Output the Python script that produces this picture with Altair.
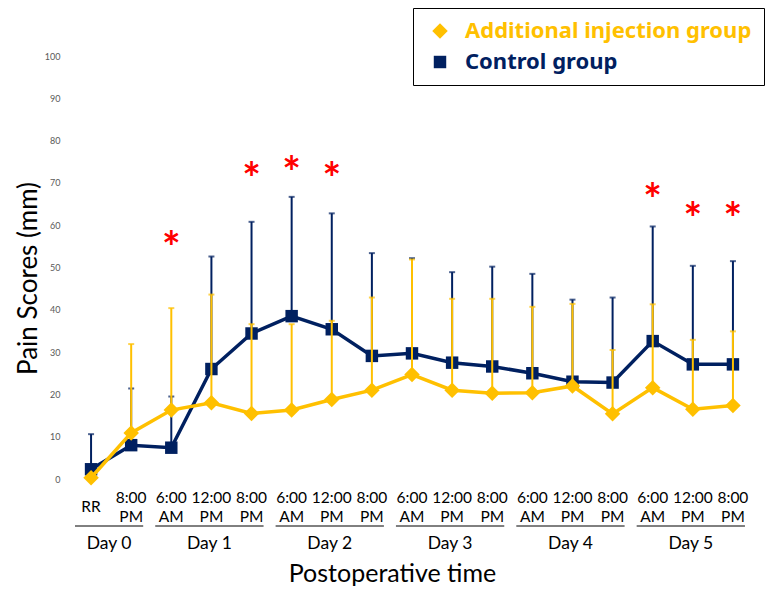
import altair as alt
import pandas as pd

# ---- data ----
idx = list(range(17))
time_top = ["", "8:00", "6:00", "12:00", "8:00", "6:00", "12:00", "8:00",
            "6:00", "12:00", "8:00", "6:00", "12:00", "8:00", "6:00", "12:00", "8:00"]
time_bottom = ["", "PM", "AM", "PM", "PM", "AM", "PM", "PM",
               "AM", "PM", "PM", "AM", "PM", "PM", "AM", "PM", "PM"]
time_mid = ["RR"] + [""] * 16

days = ["Day 0", "Day 1", "Day 2", "Day 3", "Day 4", "Day 5"]
day_start = [0, 2, 5, 8, 11, 14]
day_end = [1, 4, 7, 10, 13, 16]

add_mean = [0.3, 10.9, 16.3, 18.0, 15.5, 16.3, 18.8, 21.0, 24.7, 21.0, 20.3, 20.4, 22.0, 15.4, 21.6, 16.5, 17.4]
add_upper = [0.3, 31.9, 40.4, 43.6, 36.6, 36.6, 37.4, 42.9, 51.9, 42.6, 42.6, 40.7, 41.4, 30.5, 41.3, 32.9, 34.9]
ctl_mean = [2.3, 8.0, 7.4, 26.0, 34.4, 38.5, 35.4, 29.1, 29.7, 27.5, 26.6, 25.0, 23.0, 22.8, 32.6, 27.1, 27.1]
ctl_upper = [10.6, 21.4, 19.5, 52.6, 60.8, 66.7, 62.8, 53.4, 52.2, 48.9, 50.2, 48.5, 42.4, 42.9, 59.7, 50.4, 51.5]

sig_idx = [2, 4, 5, 6, 14, 15, 16]
sig_y = [57.0, 73.3, 74.7, 73.3, 68.3, 63.8, 63.8]

ADD = "Additional injection group"
CTL = "Control group"
YELLOW = "#FFC000"
NAVY = "#002060"

add_df = pd.DataFrame({"idx": idx, "mean": add_mean, "upper": add_upper, "series": ADD})
ctl_df = pd.DataFrame({"idx": idx, "mean": ctl_mean, "upper": ctl_upper, "series": CTL})
lab_df = pd.DataFrame({"idx": idx, "top": time_top, "bottom": time_bottom, "mid": time_mid})
day_df = pd.DataFrame({"day": days, "start": day_start, "end": day_end})
day_df["x1"] = day_df["start"] - 0.4
day_df["x2"] = day_df["end"] + 0.3
day_df["xc"] = (day_df["x1"] + day_df["x2"]) / 2
sig_df = pd.DataFrame({"idx": sig_idx, "y": sig_y})

FONT = "Lato"
W, H = 682, 423

xscale = alt.Scale(domain=[-0.5, 16.5], nice=False, zero=False)
yscale = alt.Scale(domain=[0, 100], nice=False)
color_scale = alt.Scale(domain=[ADD, CTL], range=[YELLOW, NAVY])
shape_scale = alt.Scale(domain=[ADD, CTL], range=["diamond", "square"])

x_main = alt.X("idx:Q", scale=xscale,
               axis=alt.Axis(labels=False, ticks=False, domain=False, grid=False,
                             title="Postoperative time", titleFont=FONT, titleFontSize=25,
                             titleFontWeight="normal", titleColor="black",
                             titleX=321, titleY=94, titleBaseline="middle"))
y_main = alt.Y("mean:Q", scale=yscale,
               axis=alt.Axis(values=list(range(0, 101, 10)), ticks=False, domain=False, grid=False,
                             labelFont=FONT, labelFontSize=9, labelColor="#595959", labelPadding=11,
                             title="Pain Scores (mm)", titleFont=FONT, titleFontSize=26,
                             titleFontWeight="normal", titleColor="black",
                             titleX=-30, titleY=222, titleAngle=-90, titleBaseline="bottom"))

legend = alt.Legend(title=None, orient="none", legendX=342, legendY=-48,
                    strokeColor="black", fillColor="white", padding=12, cornerRadius=0,
                    labelFont="Noto Sans", labelFontSize=22, labelFontWeight="bold",
                    labelColor={"expr": "datum.label == 'Control group' ? '#002060' : '#FFC000'"},
                    symbolSize=560, symbolStrokeWidth=0, rowPadding=9, symbolOffset=4,
                    labelOffset=14, labelLimit=420)


def series_layers(df, col, err_w):
    base = alt.Chart(df)
    rule = base.mark_rule(strokeWidth=err_w, color=col).encode(
        x=x_main, y=y_main, y2="upper:Q")
    cap = base.mark_tick(orient="horizontal", size=6, thickness=2, color=col).encode(
        x=x_main, y=alt.Y("upper:Q", scale=yscale))
    line = base.mark_line(strokeWidth=3.5, color=col).encode(
        x=x_main, y=y_main, order="idx:Q")
    pts = base.mark_point(filled=True, opacity=1).encode(
        x=x_main, y=y_main,
        color=alt.Color("series:N", scale=color_scale, legend=legend),
        shape=alt.Shape("series:N", scale=shape_scale, legend=legend),
        size=alt.Size("series:N", scale=alt.Scale(domain=[ADD, CTL], range=[240, 155]), legend=None))
    return [rule, cap, line, pts]


layers = series_layers(ctl_df, NAVY, 2) + series_layers(add_df, YELLOW, 2)

sig = alt.Chart(sig_df).mark_text(text="*", color="#FF0000", fontSize=44, font=FONT,
                                  fontWeight="bold", baseline="middle", dy=12).encode(
    x=alt.X("idx:Q", scale=xscale), y=alt.Y("y:Q", scale=yscale))

top_txt = alt.Chart(lab_df).mark_text(fontSize=15.5, font=FONT, color="black", baseline="middle").encode(
    x=alt.X("idx:Q", scale=xscale), y=alt.value(442), text="top:N")
bot_txt = alt.Chart(lab_df).mark_text(fontSize=15.5, font=FONT, color="black", baseline="middle").encode(
    x=alt.X("idx:Q", scale=xscale), y=alt.value(461), text="bottom:N")
mid_txt = alt.Chart(lab_df).mark_text(fontSize=15.5, font=FONT, color="black", baseline="middle").encode(
    x=alt.X("idx:Q", scale=xscale), y=alt.value(451), text="mid:N")
day_rule = alt.Chart(day_df).mark_rule(color="black", strokeWidth=1).encode(
    x=alt.X("x1:Q", scale=xscale), x2="x2:Q", y=alt.value(470))
day_txt = alt.Chart(day_df).mark_text(fontSize=17.5, font=FONT, color="black", baseline="middle").encode(
    x=alt.X("xc:Q", scale=xscale), y=alt.value(488), text="day:N")

chart = alt.layer(*layers, sig, top_txt, bot_txt, mid_txt, day_rule, day_txt).properties(
    width=W, height=H,
    padding={"left": 63, "top": 48, "right": 17, "bottom": 111},
    autosize=alt.AutoSizeParams(type="none"),
).configure_view(stroke=None)

chart.save("out.html", embed_options={"renderer": "svg", "actions": False})
